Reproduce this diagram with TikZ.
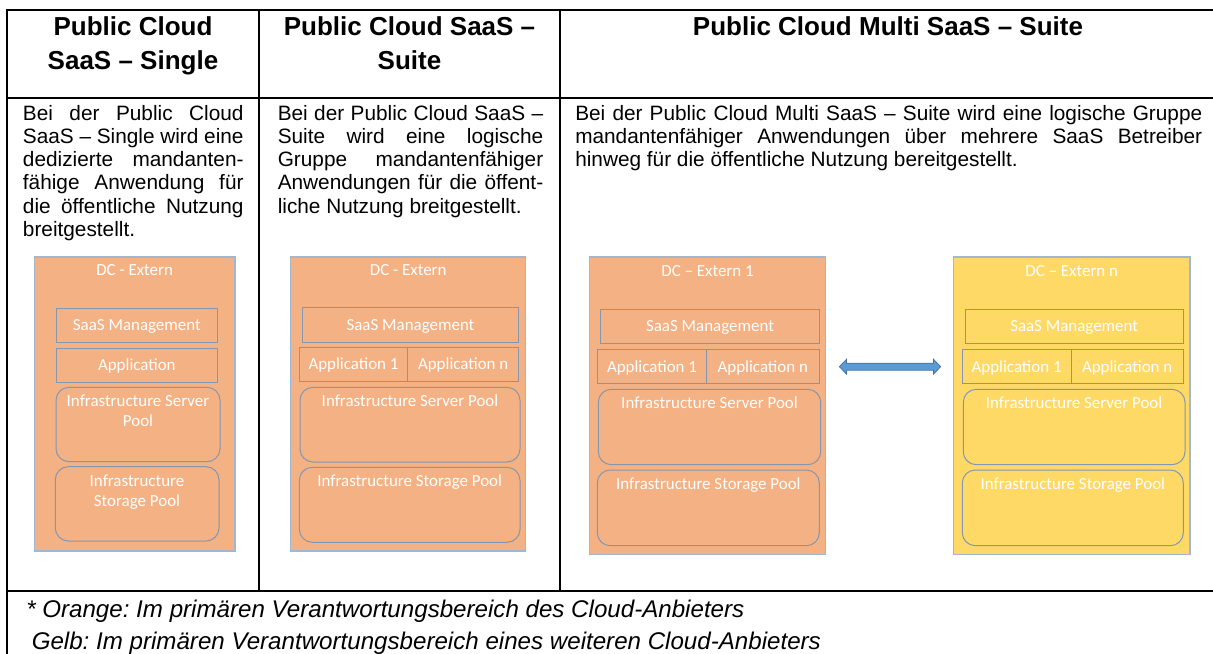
\documentclass[tikz,border=0pt]{standalone}
\usepackage{fontspec}
\setmainfont{Liberation Sans}
\newfontfamily\calfont{Carlito}
\usetikzlibrary{fit,calc}
\definecolor{orf}{HTML}{F4B183}
\definecolor{yef}{HTML}{FFD966}
\definecolor{dcb}{HTML}{A3B6CF}
\definecolor{inb}{HTML}{8496B0}
\definecolor{arf}{HTML}{5B9BD5}
\definecolor{ard}{HTML}{41719C}
\newcommand\jst[2]{\makebox[#1][s]{#2}}
\frenchspacing
\begin{document}
\begin{tikzpicture}[x=0.75pt,y=-0.75pt,
  tbl/.style={line width=1.3pt, black},
  hdr/.style={font=\bfseries\fontsize{19.5pt}{24pt}\selectfont, anchor=base, inner sep=0pt},
  body/.style={font=\fontsize{15.6pt}{18pt}\selectfont, anchor=base west, inner sep=0pt},
  foot/.style={font=\itshape\fontsize{18.1pt}{21pt}\selectfont, anchor=base west, inner sep=0pt},
  dcor/.style={draw=dcb, fill=orf, line width=0.9pt, inner sep=0pt},
  dcye/.style={draw=dcb, fill=yef, line width=0.9pt, inner sep=0pt},
  ibox/.style={draw=inb, line width=0.75pt, inner sep=0pt},
  pool/.style={ibox, rounded corners=9.75pt},
  btxt/.style={text=white, font=\calfont\fontsize{12.7pt}{15pt}\selectfont, anchor=base, inner sep=0pt},
  blockarrow/.style={fill=arf, draw=ard, line width=0.5pt, line join=miter}
]
\useasboundingbox (0,0) rectangle (1213,653);
\clip (0,0) rectangle (1213,653);
\fill[white] (0,0) rectangle (1213,653);

% table grid
\draw[tbl] (7.3,10) -- (1225,10);
\draw[tbl] (7.3,98) -- (1225,98);
\draw[tbl] (7.3,590.7) -- (1225,590.7);
\draw[tbl] (7.3,9.35) -- (7.3,665);
\draw[tbl] (259,10) -- (259,590.7);
\draw[tbl] (560,10) -- (560,590.7);

% headers
\node[hdr] (h1a) at (133,35.5) {Public Cloud};
\node[hdr] (h1b) at (133,69) {SaaS – Single};
\node[hdr] (h2a) at (409.5,35.5) {Public Cloud SaaS –};
\node[hdr] (h2b) at (409.5,69) {Suite};
\node[hdr] (h3a) at (888,35) {Public Cloud Multi SaaS – Suite};

% column 1 text
\node[body] (c1l1) at (22.7,120)   {\jst{165.45pt}{Bei der Public Cloud}};
\node[body] (c1l2) at (22.7,143.3) {\jst{165.45pt}{SaaS – Single wird eine}};
\node[body] (c1l3) at (22.7,166.6) {\jst{165.45pt}{dedizierte mandanten-}};
\node[body] (c1l4) at (22.7,189.9) {\jst{165.45pt}{fähige Anwendung für}};
\node[body] (c1l5) at (22.7,213.2) {\jst{165.45pt}{die öffentliche Nutzung}};
\node[body] (c1l6) at (22.7,236.5) {breitgestellt.};

% column 2 text
\node[body] (c2l1) at (277.5,120)   {\jst{199.1pt}{Bei der Public Cloud SaaS –}};
\node[body] (c2l2) at (277.5,143.3) {\jst{199.1pt}{Suite wird eine logische}};
\node[body] (c2l3) at (277.5,166.6) {\jst{199.1pt}{Gruppe mandantenfähiger}};
\node[body] (c2l4) at (277.5,189.9) {\jst{199.1pt}{Anwendungen für die öffent-}};
\node[body] (c2l5) at (277.5,213.2) {liche Nutzung breitgestellt.};

% column 3 text
\node[body] (c3l1) at (575,120)   {\jst{470.25pt}{Bei der Public Cloud Multi SaaS – Suite wird eine logische Gruppe}};
\node[body] (c3l2) at (575,143.3) {\jst{470.25pt}{mandantenfähiger Anwendungen über mehrere SaaS Betreiber}};
\node[body] (c3l3) at (575,166.6) {hinweg für die öffentliche Nutzung bereitgestellt.};

% footer
\node[foot] (f1) at (26,617.3) {* Orange: Im primären Verantwortungsbereich des Cloud-Anbieters};
\node[foot] (f2) at (31.5,649) {Gelb: Im primären Verantwortungsbereich eines weiteren Cloud-Anbieters};

% ---- column 1 DC
\node[dcor, fit={(34.3,257) (235,551)}] (dc1) {};
\node[btxt] (dc1t) at (134.6,275.3) {DC - Extern};
\node[ibox, fit={(56,308.3) (217.7,342.7)}] (sm1) {};
\node[btxt] (sm1t) at (136.85,330.8) {SaaS Management};
\node[ibox, fit={(56,348.3) (217.7,382.3)}] (ap1) {};
\node[btxt] (ap1t) at (136.85,370.6) {Application};
\node[pool, fit={(56,387.3) (220,461.7)}] (sp1) {};
\node[btxt] (sp1a) at (138,406.6) {Infrastructure Server};
\node[btxt] (sp1b) at (138,426.6) {Pool};
\node[pool, fit={(55.3,466.7) (219,541)}] (st1) {};
\node[btxt] (st1a) at (137,486) {Infrastructure};
\node[btxt] (st1b) at (137,506) {Storage Pool};

% ---- column 2 DC
\node[dcor, fit={(290.7,257) (525.7,551)}] (dc2) {};
\node[btxt] (dc2t) at (408.2,275.3) {DC - Extern};
\node[ibox, fit={(302.3,307.7) (518.7,342.3)}] (sm2) {};
\node[btxt] (sm2t) at (410.5,330.3) {SaaS Management};
\node[ibox, fit={(299.3,347.7) (407.7,381.3)}] (ap2a) {};
\node[btxt] (ap2at) at (353.5,369.8) {Application 1};
\node[ibox, fit={(407.7,347.7) (518.7,381.3)}] (ap2b) {};
\node[btxt] (ap2bt) at (463.2,369.8) {Application n};
\node[pool, fit={(300,387.3) (520,462)}] (sp2) {};
\node[btxt] (sp2a) at (410,406.6) {Infrastructure Server Pool};
\node[pool, fit={(299.3,467.3) (520,542.3)}] (st2) {};
\node[btxt] (st2a) at (409.7,486.6) {Infrastructure Storage Pool};

% ---- column 3 DC 1
\node[dcor, fit={(589.3,257) (825.7,554.3)}] (dc3) {};
\node[btxt] (dc3t) at (707.5,276) {DC – Extern 1};
\node[ibox, fit={(600.7,309.3) (819.3,343.3)}] (sm3) {};
\node[btxt] (sm3t) at (710,331.6) {SaaS Management};
\node[ibox, fit={(597.7,349.7) (706.3,383.7)}] (ap3a) {};
\node[btxt] (ap3at) at (652,372) {Application 1};
\node[ibox, fit={(706.3,349.7) (819.3,383.7)}] (ap3b) {};
\node[btxt] (ap3bt) at (762.8,372) {Application n};
\node[pool, fit={(598.3,389.3) (820.7,464.7)}] (sp3) {};
\node[btxt] (sp3a) at (709.5,408.6) {Infrastructure Server Pool};
\node[pool, fit={(597.3,470) (819.3,545.7)}] (st3) {};
\node[btxt] (st3a) at (708.3,489.3) {Infrastructure Storage Pool};

% ---- column 3 DC n
\node[dcye, fit={(953.3,257) (1190,554.3)}] (dc4) {};
\node[btxt] (dc4t) at (1071.7,276) {DC – Extern n};
\node[ibox, fit={(965,309.3) (1183.3,343.3)}] (sm4) {};
\node[btxt] (sm4t) at (1074.15,331.6) {SaaS Management};
\node[ibox, fit={(962.3,349.7) (1071,383.7)}] (ap4a) {};
\node[btxt] (ap4at) at (1016.65,372) {Application 1};
\node[ibox, fit={(1071,349.7) (1183.3,383.7)}] (ap4b) {};
\node[btxt] (ap4bt) at (1127.15,372) {Application n};
\node[pool, fit={(963.3,389.3) (1185,464.7)}] (sp4) {};
\node[btxt] (sp4a) at (1074,408.6) {Infrastructure Server Pool};
\node[pool, fit={(962.3,470) (1183.3,545.7)}] (st4) {};
\node[btxt] (st4a) at (1072.8,489.3) {Infrastructure Storage Pool};

% double block arrow
\coordinate (al) at (839.3,366.7);
\coordinate (ar) at (940.7,366.7);
\draw[blockarrow] (al) -- ++(7.2,-7.5) -- ++(0,4) -- ($(ar)+(-7.2,-3.5)$) -- ++(0,-4)
  -- (ar) -- ++(-7.2,7.5) -- ++(0,-4) -- ($(al)+(7.2,3.5)$) -- ++(0,4) -- cycle;
\end{tikzpicture}
\end{document}
